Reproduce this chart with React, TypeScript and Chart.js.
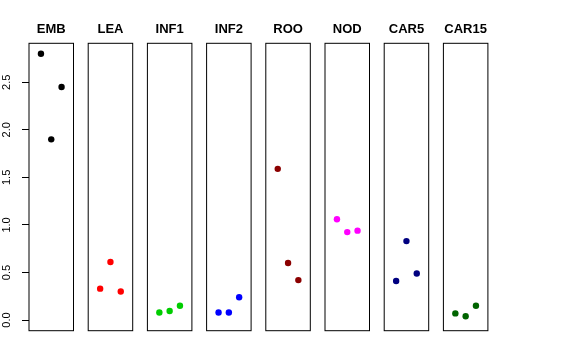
import React, { useEffect, useRef } from "react";
import { Chart, registerables } from "chart.js";

Chart.register(...registerables);

const panelNames = ["EMB", "LEA", "INF1", "INF2", "ROO", "NOD", "CAR5", "CAR15"];
const xPos = [1, 2, 3];
const emb = [2.8, 1.9, 2.45];
const lea = [0.33, 0.61, 0.3];
const inf1 = [0.08, 0.095, 0.15];
const inf2 = [0.08, 0.08, 0.24];
const roo = [1.59, 0.6, 0.42];
const nod = [1.06, 0.925, 0.94];
const car5 = [0.41, 0.83, 0.49];
const car15 = [0.07, 0.04, 0.15];
const seriesValues = [emb, lea, inf1, inf2, roo, nod, car5, car15];
const seriesColors = ["#000000", "#FF0000", "#00CD00", "#0000FF", "#8B0000", "#FF00FF", "#000080", "#006400"];
const yTicks = [0, 0.5, 1.0, 1.5, 2.0, 2.5];

const Y_MIN = -0.112;
const Y_MAX = 2.91;
const X_MIN = -0.16;
const X_MAX = 4.16;

const FIRST_LEFT = 29;
const STEP = 59.2;
const PANEL_W = 44.5;
const AREA_TOP = 43.3;
const AREA_BOTTOM = 330.7;
const H = 360;

const boxPlugin = {
  id: "panelBox",
  afterDatasetsDraw(chart: any) {
    const { ctx, chartArea } = chart;
    ctx.save();
    ctx.strokeStyle = "#000";
    ctx.lineWidth = 1;
    ctx.strokeRect(chartArea.left, chartArea.top, chartArea.right - chartArea.left, chartArea.bottom - chartArea.top);
    ctx.restore();
  },
};

function Panel({ index }: { index: number }) {
  const ref = useRef<HTMLCanvasElement>(null);
  const first = index === 0;
  const panelLeft = FIRST_LEFT + index * STEP;
  const canvasLeft = first ? 0 : Math.round(panelLeft) - 8;
  const canvasW = first ? 80 : 60;
  const padLeft = first ? 0 : panelLeft - canvasLeft;
  const padRight = canvasW - (panelLeft - canvasLeft) - PANEL_W;

  useEffect(() => {
    if (!ref.current) return;
    const chart = new Chart(ref.current, {
      type: "scatter",
      data: {
        datasets: [
          {
            data: xPos.map((x, k) => ({ x, y: seriesValues[index][k] })),
            backgroundColor: seriesColors[index],
            borderColor: seriesColors[index],
            pointRadius: 3.2,
            pointBorderWidth: 0,
          },
        ],
      },
      options: {
        animation: false,
        responsive: false,
        devicePixelRatio: 1,
        layout: { padding: { left: padLeft, right: padRight, top: 0, bottom: H - AREA_BOTTOM } },
        plugins: {
          legend: { display: false },
          tooltip: { enabled: false },
          title: {
            display: true,
            text: panelNames[index],
            fullSize: false,
            color: "#000",
            font: { family: "'Liberation Sans', Arial, sans-serif", size: 13, weight: "bold", lineHeight: 1.2 },
            padding: { top: 21.7, bottom: AREA_TOP - 21.7 - 15.6 },
          },
        },
        scales: {
          x: { type: "linear", min: X_MIN, max: X_MAX, display: false },
          y: {
            type: "linear",
            min: Y_MIN,
            max: Y_MAX,
            display: first,
            afterBuildTicks: (scale: any) => {
              scale.ticks = yTicks.map((v) => ({ value: v }));
            },
            afterFit: (scale: any) => {
              scale.width = first ? FIRST_LEFT : 0;
            },
            border: { display: false },
            grid: {
              display: true,
              drawOnChartArea: false,
              drawTicks: true,
              tickLength: 7,
              color: "#000",
              lineWidth: 1,
            },
            ticks: {
              minRotation: 90,
              maxRotation: 90,
              crossAlign: "center",
              padding: 7,
              color: "#000",
              font: { family: "'Liberation Sans', Arial, sans-serif", size: 11 },
              callback: (v: any) => Number(v).toFixed(1),
            },
          },
        },
      },
      plugins: [boxPlugin],
    } as any);
    return () => chart.destroy();
  }, [index]);

  return (
    <canvas
      ref={ref}
      width={canvasW}
      height={H}
      style={{ position: "absolute", left: canvasLeft, top: 0, width: canvasW, height: H }}
    />
  );
}

export default function App() {
  return (
    <div style={{ position: "fixed", left: 0, top: 0, width: 576, height: 360, background: "#fff", overflow: "hidden" }}>
      {panelNames.map((_, i) => (
        <Panel key={i} index={i} />
      ))}
    </div>
  );
}
